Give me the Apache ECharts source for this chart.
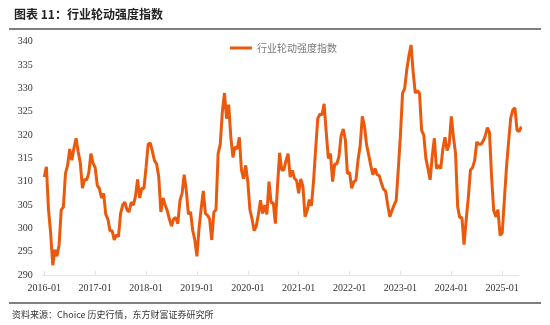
<!DOCTYPE html>
<html>
<head>
<meta charset="utf-8">
<script src="https://cdn.jsdelivr.net/npm/echarts@6/dist/echarts.min.js"></script>
<style>
html,body{margin:0;padding:0;background:#fff;}
#chart{width:550px;height:325px;}
</style>
</head>
<body>
<div id="chart"></div>
<script>
// Data: half-monthly samples starting 2016-01
var startYear = 2016;
var pointsPerYear = 24;
var seriesName = '行业轮动强度指数';
var values = [
311,313.2,304,299,292.1,295.4,294,296.5,304,304.5,311.8,313.5,317,314.6,317.2,319.3,316.4,314,308.6,310.5,310.4,311.9,316,314,
313,309.2,308.5,306.5,307.5,303,302,299.5,299.5,297.5,298.6,298.2,303.2,305,305.6,304,303.5,305.6,305,306.8,310.5,306.5,308.6,308.5,
313,318,318.3,316.5,314.5,313.8,311,303.5,306.5,305,303.8,302,300.5,302,302.3,301,306,307.5,311.5,308,303,303.5,299.6,297.5,
294,300,304.2,308,303.2,302.8,302,297.5,303.5,304,316,318,325,329,323.5,326.5,319.5,315.2,317.5,317,319.5,312.5,310.6,313.5,
310,304,302,299.5,300.5,303,306,303.2,305,303,310,305.5,305.5,301,309,316.2,312.5,312.5,314.5,316,311,312.4,310.7,310.3,
307.5,310.6,309,302.5,303.8,306.2,304.8,310,317,323.5,324.5,324.3,326.7,320.5,315,316,310,313.8,313.8,315.4,319.8,321.3,319,311.7,
312,308.6,310,310.3,314.7,317.7,324,322,318,315.8,313.5,311.5,312.8,311.5,311.3,309.7,308.4,308,305,302.5,303.8,305,306,312.8,
320,329,330,334,337,339.3,333.5,329,329.5,328.9,321,320,315,312.8,310.4,315.5,319.3,312.8,313.5,312.8,317,319.5,316.7,318,
324,319.6,316,304.6,302.3,302.3,296.5,301.8,306.5,312.5,313,314.5,318.5,318,318,318.7,319.8,321.6,320.5,311,303.8,302.5,304,298.5,
299,306,313,318.5,323.6,325.4,325.8,321,320.8,321.8
];
var yearTicks = [2016,2017,2018,2019,2020,2021,2022,2023,2024,2025];
var yMin = 290, yMax = 340, yStep = 5;
var titleText = '图表 11：行业轮动强度指数';
var sourceText = '资料来源：Choice 历史行情，东方财富证券研究所';

var seriesData = values.map(function (v, i) { return [startYear + i / pointsPerYear, v]; });

var chart = echarts.init(document.getElementById('chart'), null, {renderer: 'canvas'});
var serif = '"Liberation Serif", "DejaVu Serif", serif';
chart.setOption({
  animation: false,
  backgroundColor: '#fff',
  grid: {left: 42.7, right: 31, top: 41.7, bottom: 50, containLabel: false},
  legend: {
    data: [seriesName],
    left: 225, top: 38,
    itemWidth: 22, itemHeight: 3, itemGap: 5,
    icon: 'rect',
    textStyle: {color: '#777', fontSize: 10, fontFamily: '"Noto Sans CJK SC", sans-serif'}
  },
  xAxis: {
    type: 'value',
    min: 2015.969, max: 2025.33,
    axisLine: {show: true, lineStyle: {color: '#e3e3e3', width: 1}},
    axisTick: {show: true, customValues: yearTicks, length: 4, inside: true, lineStyle: {color: '#e3e3e3'}},
    axisLabel: {customValues: yearTicks, formatter: function (v) { return v + '-01'; },
      color: '#333', fontSize: 10, fontFamily: serif, margin: 8},
    splitLine: {show: false}
  },
  yAxis: {
    type: 'value', min: yMin, max: yMax, interval: yStep,
    axisLine: {show: false}, axisTick: {show: false}, splitLine: {show: false},
    axisLabel: {color: '#333', fontSize: 10, fontFamily: serif, margin: 10}
  },
  series: [{
    name: seriesName, type: 'line', data: seriesData,
    showSymbol: false, symbol: 'none',
    lineStyle: {color: '#EB5A0C', width: 3},
    itemStyle: {color: '#EB5A0C'}
  }],
  graphic: [
    {type: 'text', left: 14, top: 8, style: {text: titleText, fill: '#222', font: 'bold 12px "Noto Sans CJK SC", sans-serif'}},
    {type: 'line', shape: {x1: 9, y1: 29, x2: 541, y2: 29}, style: {stroke: '#555', lineWidth: 1.5}},
    {type: 'line', shape: {x1: 9, y1: 303, x2: 541, y2: 303}, style: {stroke: '#555', lineWidth: 1.5}},
    {type: 'text', left: 12, top: 310, style: {text: sourceText, fill: '#333', font: '9px "Noto Sans CJK SC", sans-serif'}}
  ]
});
</script>
</body>
</html>
